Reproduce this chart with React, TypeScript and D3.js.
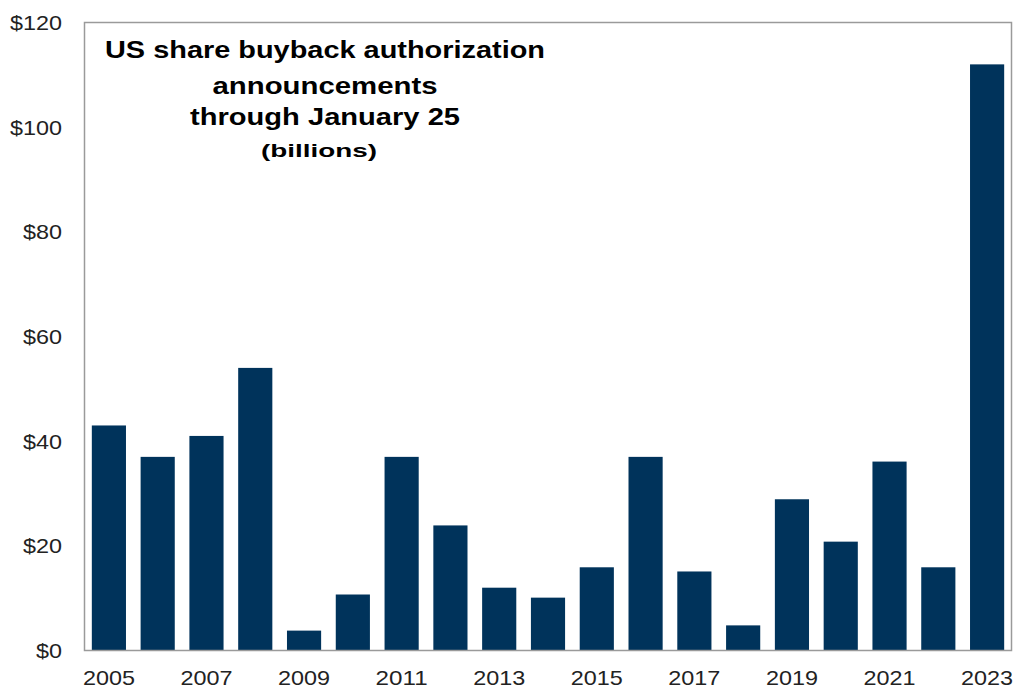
import React from "react";
import * as d3 from "d3";

const years = ["2005","2006","2007","2008","2009","2010","2011","2012","2013","2014","2015","2016","2017","2018","2019","2020","2021","2022","2023"];
const values = [43, 37, 41, 54, 3.8, 10.7, 37, 23.9, 12, 10.1, 15.9, 37, 15.1, 4.8, 28.9, 20.8, 36.1, 15.9, 112];
const yTicks = [0, 20, 40, 60, 80, 100, 120];
const titleLines = ["US share buyback authorization", "announcements", "through January  25"];
const subtitle = "(billions)";

export default function App() {
  const W = 1015, H = 688;
  const left = 84.5, right = 1011.5, top = 22.5, bottom = 650.5;
  const x = d3.scaleBand<string>().domain(years).range([left, right]).paddingInner(0.3).paddingOuter(0.15);
  const y = d3.scaleLinear().domain([0, 120]).range([bottom, top]);
  const font = "'Liberation Sans', Arial, sans-serif";
  const titleLens = [440, 225, 270];
  const titleBase = [58, 94, 125];
  return (
    <svg width={W} height={H} style={{ position: "absolute", left: 0, top: 0 }} fontFamily={font}>
      <rect x={0} y={0} width={W} height={H} fill="#fff" />
      {years.map((yr, i) => (
        <rect key={yr} x={x(yr)} y={y(values[i])} width={x.bandwidth()} height={y(0) - y(values[i])} fill="#00335b" />
      ))}
      <rect x={left} y={top} width={right - left} height={bottom - top} fill="none" stroke="#9a9a9a" strokeWidth={1.5} />
      {yTicks.map(t => {
        const s = `$${t}`;
        return (
          <text key={t} x={62} y={y(t)} dy="0.35em" textAnchor="end" fontSize={21} fill="#222"
            textLength={s.length * 13} lengthAdjust="spacingAndGlyphs">{s}</text>
        );
      })}
      {years.filter((_, i) => i % 2 === 0).map(yr => (
        <text key={yr} x={(x(yr) as number) + x.bandwidth() / 2} y={685} textAnchor="middle" fontSize={21} fill="#222"
          textLength={52} lengthAdjust="spacingAndGlyphs">{yr}</text>
      ))}
      {titleLines.map((l, i) => (
        <text key={i} x={325} y={titleBase[i]} textAnchor="middle" fontSize={24} fontWeight="bold" fill="#000"
          textLength={titleLens[i]} lengthAdjust="spacingAndGlyphs">{l}</text>
      ))}
      <text x={319} y={157} textAnchor="middle" fontSize={19} fontWeight="bold" fill="#000"
        textLength={116} lengthAdjust="spacingAndGlyphs">{subtitle}</text>
    </svg>
  );
}
